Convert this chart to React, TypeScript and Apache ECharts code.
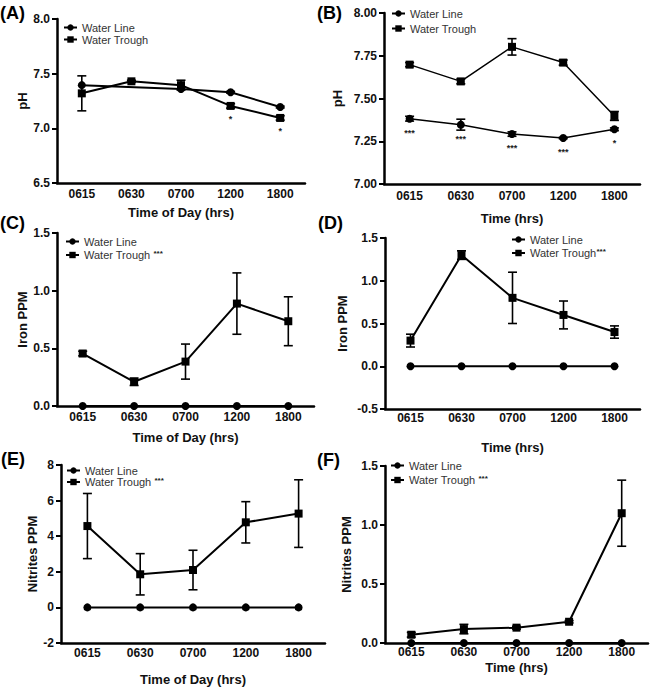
import React, { useEffect, useRef } from 'react';
import * as echarts from 'echarts';

const times = ['0615', '0630', '0700', '1200', '1800'];

// (A) pH by time of day
const phDayLine = [7.395, null, 7.36, 7.33, 7.195];
const phDayLineErr = [0, 0, 0, 0.008, 0.008];
const phDayTrough = [7.32, 7.43, 7.395, 7.205, 7.095];
const phDayTroughErr = [0.16, 0.01, 0.045, 0.02, 0.02];
const phDaySig = ['', '', '', '*', '*'];

// (B) pH
const phLine = [7.382, 7.347, 7.292, 7.269, 7.32];
const phLineErr = [0.014, 0.032, 0.013, 0.004, 0.008];
const phTrough = [7.698, 7.6, 7.802, 7.71, 7.398];
const phTroughErr = [0.012, 0.014, 0.048, 0.015, 0.026];
const phSig = ['***', '***', '***', '***', '*'];

// (C) Iron by time of day
const ironDayLine = [0, 0, 0, 0, 0];
const ironDayTrough = [0.455, 0.21, 0.385, 0.888, 0.735];
const ironDayTroughErr = [0.02, 0.032, 0.152, 0.266, 0.212];

// (D) Iron
const ironLine = [0, 0, 0, 0, 0];
const ironTrough = [0.3, 1.3, 0.8, 0.6, 0.4];
const ironTroughErr = [0.075, 0.05, 0.3, 0.163, 0.072];

// (E) Nitrites by time of day
const nitDayLine = [0, 0, 0, 0, 0];
const nitDayTrough = [4.57, 1.86, 2.1, 4.78, 5.27];
const nitDayTroughErr = [1.83, 1.16, 1.11, 1.16, 1.9];

// (F) Nitrites
const nitLine = [0, 0, 0, 0, 0];
const nitTrough = [0.07, 0.118, 0.13, 0.18, 1.1];
const nitTroughErr = [0.02, 0.04, 0.012, 0.01, 0.28];

const yTitles = ['pH', 'pH', 'Iron PPM', 'Iron PPM', 'Nitrites PPM', 'Nitrites PPM'];
const xTitles = ['Time of Day (hrs)', 'Time (hrs)', 'Time of Day (hrs)', 'Time (hrs)', 'Time of Day (hrs)', 'Time (hrs)'];
const panelLetters = ['(A)', '(B)', '(C)', '(D)', '(E)', '(F)'];
const yMin = [6.5, 7.0, 0, -0.5, -2, 0];
const yMax = [8.0, 8.0, 1.5, 1.5, 8, 1.5];
const yStep = [0.5, 0.25, 0.5, 0.5, 2, 0.5];
const yDecimals = [1, 2, 1, 1, 0, 1];
const troughStars = ['', '', ' {s|***}', '{s|***}', ' {s|***}', ' {s|***}'];

const panels = [
  { line: phDayLine, lineErr: phDayLineErr, trough: phDayTrough, troughErr: phDayTroughErr, sig: phDaySig, sigOn: 'trough' },
  { line: phLine, lineErr: phLineErr, trough: phTrough, troughErr: phTroughErr, sig: phSig, sigOn: 'line' },
  { line: ironDayLine, lineErr: null, trough: ironDayTrough, troughErr: ironDayTroughErr, sig: null, sigOn: '' },
  { line: ironLine, lineErr: null, trough: ironTrough, troughErr: ironTroughErr, sig: null, sigOn: '' },
  { line: nitDayLine, lineErr: null, trough: nitDayTrough, troughErr: nitDayTroughErr, sig: null, sigOn: '' },
  { line: nitLine, lineErr: null, trough: nitTrough, troughErr: nitTroughErr, sig: null, sigOn: '' },
];

// layout (pixels)
const grids = [
  { left: 57, top: 19, width: 248, height: 164 },
  { left: 384, top: 13, width: 256, height: 171 },
  { left: 57, top: 233, width: 257, height: 173 },
  { left: 385, top: 238, width: 255, height: 171 },
  { left: 61, top: 465, width: 264, height: 178 },
  { left: 385, top: 466, width: 263, height: 177 },
];
const xNameGap = [23, 28, 25, 32, 30, 18];
const yNameGap = [28, 40, 26, 36, 20, 32];
const xLabelMargin = [5, 6, 5, 3, 4, 3];
const legendPos = [
  { left: 63, top: 22, gap: 1 },
  { left: 391, top: 8, gap: 4 },
  { left: 65, top: 236, gap: 2 },
  { left: 511, top: 234, gap: 2 },
  { left: 66, top: 465, gap: 0 },
  { left: 390, top: 460, gap: 3 },
];
const letterPos = [
  { x: 0, y: 15 },
  { x: 317, y: 15 },
  { x: 0, y: 225 },
  { x: 318, y: 225 },
  { x: 1, y: 461 },
  { x: 317, y: 462 },
];

const FONT = '"Liberation Sans", Arial, Helvetica, sans-serif';

function errorSeries(mean: (number | null)[], err: number[], xi: number) {
  return {
    type: 'custom',
    xAxisIndex: xi,
    yAxisIndex: xi,
    silent: true,
    z: 3,
    data: mean.map((m, i) => [i, m == null ? 0 : m, m == null ? 0 : err[i]]),
    renderItem: (params: any, api: any) => {
      const i = api.value(0);
      const m = api.value(1);
      const e = api.value(2);
      if (!e || e <= 0) return null;
      const top = api.coord([i, m + e]);
      const bot = api.coord([i, m - e]);
      const cap = 4.5;
      const style = { stroke: '#000', lineWidth: 1.6 };
      return {
        type: 'group',
        children: [
          { type: 'line', shape: { x1: top[0], y1: top[1], x2: bot[0], y2: bot[1] }, style },
          { type: 'line', shape: { x1: top[0] - cap, y1: top[1], x2: top[0] + cap, y2: top[1] }, style },
          { type: 'line', shape: { x1: bot[0] - cap, y1: bot[1], x2: bot[0] + cap, y2: bot[1] }, style },
        ],
      };
    },
  };
}

function sigSeries(mean: (number | null)[], sig: string[], xi: number, dy: number) {
  return {
    type: 'custom',
    xAxisIndex: xi,
    yAxisIndex: xi,
    silent: true,
    z: 4,
    data: mean.map((m, i) => [i, m == null ? 0 : m]),
    renderItem: (params: any, api: any) => {
      const s = sig[params.dataIndex];
      if (!s) return null;
      const p = api.coord([api.value(0), api.value(1)]);
      return {
        type: 'text',
        x: p[0],
        y: p[1] + dy,
        style: { text: s, fill: '#222', font: `bold 9px ${FONT}`, align: 'center', verticalAlign: 'middle' },
      };
    },
  };
}

export default function App() {
  const ref = useRef<HTMLDivElement>(null);
  useEffect(() => {
    if (!ref.current) return;
    const chart = echarts.init(ref.current, null, { renderer: 'svg' });
    const series: any[] = [];
    panels.forEach((p, k) => {
      series.push({
        name: 'Water Line',
        type: 'line',
        xAxisIndex: k,
        yAxisIndex: k,
        data: p.line,
        connectNulls: true,
        symbol: 'circle',
        symbolSize: 8,
        itemStyle: { color: '#000' },
        lineStyle: { color: '#000', width: k === 1 ? 1.5 : 2 },
        z: 2,
      });
      series.push({
        name: 'Water Trough',
        type: 'line',
        xAxisIndex: k,
        yAxisIndex: k,
        data: p.trough,
        symbol: 'rect',
        symbolSize: 8,
        itemStyle: { color: '#000' },
        lineStyle: { color: '#000', width: k === 1 ? 1.5 : 2 },
        z: 3,
      });
      if (p.lineErr) series.push(errorSeries(p.line, p.lineErr, k));
      series.push(errorSeries(p.trough, p.troughErr, k));
      if (p.sig) {
        if (p.sigOn === 'trough') series.push(sigSeries(p.trough, p.sig, k, 13));
        else series.push(sigSeries(p.line, p.sig, k, 14));
      }
    });

    const option: any = {
      animation: false,
      backgroundColor: '#fff',
      textStyle: { fontFamily: FONT },
      grid: grids.map((g) => ({ ...g, containLabel: false })),
      xAxis: grids.map((g, k) => ({
        type: 'category',
        gridIndex: k,
        data: times,
        boundaryGap: true,
        name: xTitles[k],
        nameLocation: 'middle',
        nameGap: xNameGap[k],
        nameTextStyle: { fontFamily: FONT, fontWeight: 'bold', fontSize: 13, color: '#111' },
        axisLine: { onZero: false, lineStyle: { color: '#000', width: 2.5 } },
        axisTick: { show: false },
        axisLabel: { fontFamily: FONT, fontWeight: 'bold', fontSize: 12, color: '#111', margin: xLabelMargin[k] },
        splitLine: { show: false },
      })),
      yAxis: grids.map((g, k) => ({
        type: 'value',
        gridIndex: k,
        min: yMin[k],
        max: yMax[k],
        interval: yStep[k],
        name: yTitles[k],
        nameLocation: 'middle',
        nameRotate: 90,
        nameGap: yNameGap[k],
        nameTextStyle: { fontFamily: FONT, fontWeight: 'bold', fontSize: 13, color: '#111' },
        axisLine: { show: true, lineStyle: { color: '#000', width: 2.5 } },
        axisTick: { show: true, length: 5, lineStyle: { color: '#000', width: 2 } },
        axisLabel: {
          fontFamily: FONT,
          fontWeight: 'bold',
          fontSize: 12,
          color: '#111',
          margin: 7,
          formatter: (v: number) => v.toFixed(yDecimals[k]),
        },
        splitLine: { show: false },
      })),
      legend: legendPos.map((l, k) => ({
        data: ['Water Line', 'Water Trough'],
        orient: 'vertical',
        left: l.left,
        top: l.top,
        itemGap: l.gap,
        itemWidth: 13,
        itemHeight: 8,
        selectedMode: false,
        padding: 0,
        formatter: (name: string) => (name === 'Water Trough' ? name + troughStars[k] : name),
        textStyle: {
          fontFamily: FONT,
          fontSize: 11,
          color: '#333',
          rich: { s: { fontFamily: FONT, fontSize: 8, color: '#222', fontWeight: 'bold', padding: [0, 0, 4, 0] } },
        },
      })),
      graphic: panelLetters.map((t, k) => ({
        type: 'text',
        left: letterPos[k].x,
        top: letterPos[k].y - 11,
        style: { text: t, fill: '#000', font: `bold 18px ${FONT}` },
      })),
      series,
    };
    chart.setOption(option);
    return () => chart.dispose();
  }, []);
  return <div ref={ref} style={{ position: 'fixed', left: 0, top: 0, width: 650, height: 690, background: '#fff' }} />;
}
